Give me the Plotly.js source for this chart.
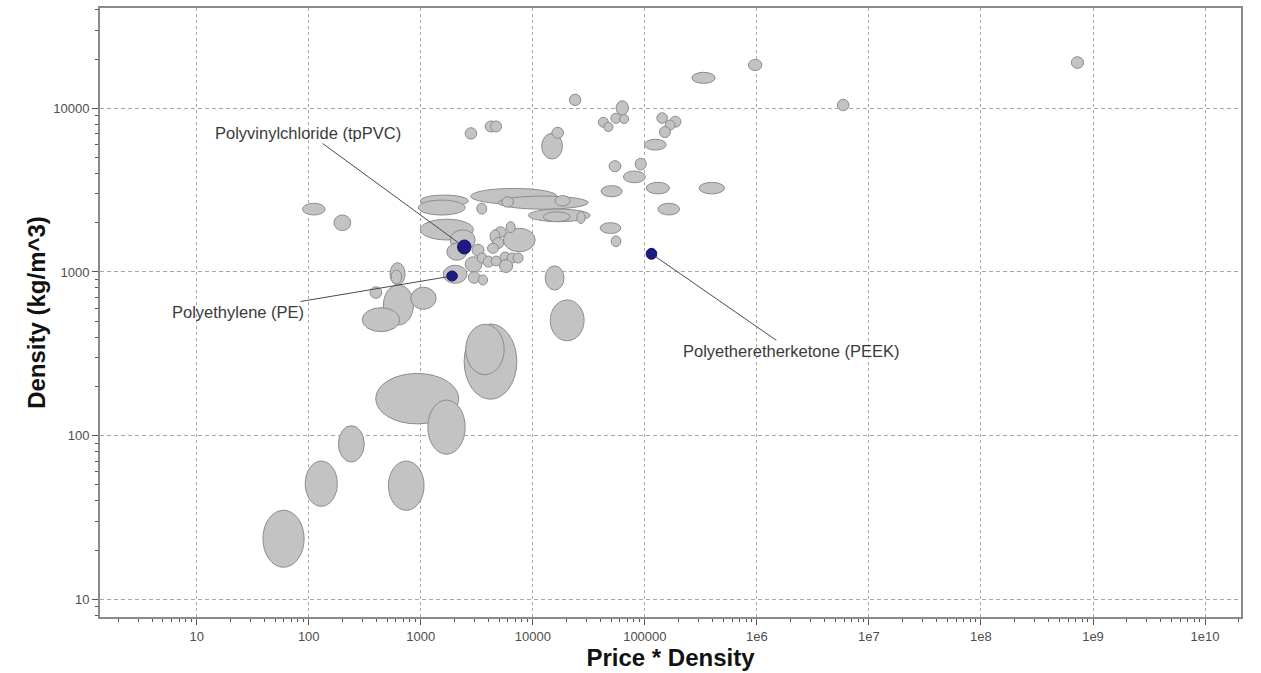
<!DOCTYPE html>
<html><head><meta charset="utf-8">
<script src="https://cdn.plot.ly/plotly-3.0.1.min.js"></script>
<style>html,body{margin:0;padding:0;background:#fff;} #chart{width:1261px;height:673px;}</style>
</head><body><div id="chart"></div>
<script>
// Grey materials: property ranges (Price*Density and Density)
const priceDensityLow  = [39, 93, 184, 514, 396, 1155, 2440, 2520, 14300, 12900, 464, 300, 815, 532, 543, 353, 88, 168,
  2790, 4900, 990, 950, 9140, 12400, 5290, 15800, 3160, 24700,
  990, 1830, 1710, 1590, 2490, 2660, 3270, 5460, 4600, 5780, 4160, 2870, 4380, 3940, 3190, 3600, 4250, 5100, 5900, 6670, 5050,
  2490, 3750, 4200, 12000, 14800, 21200, 263000, 55400, 38500, 43100, 49700, 59600, 128000, 167500, 152000, 135000,
  99200, 48000, 81900, 64400, 40700, 103000, 305000, 131000, 39900, 50000, 841000, 5.24e6, 6.4e8];
const priceDensityHigh = [91, 180, 313, 1070, 2180, 2490, 7200, 5550, 28700, 19000, 860, 650, 1370, 724, 676, 449, 140, 237,
  16400, 31200, 2660, 2490, 32500, 21500, 6720, 21500, 3880, 29300,
  2950, 3060, 2580, 2580, 3510, 3380, 3940, 10500, 5780, 6960, 5100, 3670, 5480, 4930, 3910, 4510, 5210, 6270, 7250, 8190, 6600,
  3160, 4800, 5260, 18400, 18800, 26800, 424000, 71400, 47300, 51900, 61100, 71700, 159000, 210000, 186000, 169000,
  155000, 61100, 103000, 101000, 62700, 166000, 514000, 204000, 61100, 61100, 1108000, 6.63e6, 8.25e8];
const densityLow  = [15.7, 37, 69, 35, 118, 77, 167, 236, 380, 776, 474, 432, 592, 833, 846, 690, 2230, 1790,
  2600, 2420, 2510, 2230, 2030, 2030, 2490, 2530, 2260, 1980,
  1570, 1360, 1180, 853, 1000, 853, 833, 1330, 1630, 1740, 1500, 1250, 1390, 1300, 1135, 1070, 1090, 1150, 1135, 1135, 993,
  6490, 7170, 7170, 4900, 6560, 10400, 14200, 9100, 7660, 7220, 8100, 8080, 8100, 7670, 7370, 6630,
  5560, 4100, 4200, 3510, 2880, 3000, 3000, 2230, 1720, 1430, 17000, 9670, 17550];
const densityHigh = [35, 70, 115, 70, 240, 165, 481, 479, 675, 1090, 833, 605, 807, 1140, 1028, 812, 2630, 2230,
  3240, 2910, 2950, 2750, 2420, 2330, 2880, 2930, 2630, 2330,
  2100, 1810, 1500, 1100, 1240, 1004, 959, 1850, 1890, 2030, 1810, 1480, 1625, 1500, 1306, 1250, 1250, 1325, 1306, 1306, 1190,
  7610, 8370, 8370, 7040, 7660, 12200, 16600, 11130, 8810, 8190, 9320, 9170, 9400, 8950, 8480, 7740,
  6470, 4790, 4950, 4140, 3370, 3530, 3530, 2630, 2000, 1660, 19900, 11350, 20670];

// Highlighted materials
const highlightNames  = ['Polyvinylchloride (tpPVC)', 'Polyethylene (PE)', 'Polyetheretherketone (PEEK)'];
const highlightPDLow  = [2131, 1707, 102700];
const highlightPDHigh = [2807, 2122, 127900];
const highlightDLow   = [1288, 881, 1196];
const highlightDHigh  = [1569, 1014, 1395];

// Tick labels
const xTickVals = [10, 100, 1000, 10000, 100000, 1e6, 1e7, 1e8, 1e9, 1e10];
const xTickText = ['10', '100', '1000', '10000', '100000', '1e6', '1e7', '1e8', '1e9', '1e10'];
const yTickVals = [10, 100, 1000, 10000];
const yTickText = ['10', '100', '1000', '10000'];

const shapes = [];
for (let i = 0; i < priceDensityLow.length; i++) {
  shapes.push({type: 'circle', xref: 'x', yref: 'y',
    x0: priceDensityLow[i], x1: priceDensityHigh[i], y0: densityLow[i], y1: densityHigh[i],
    fillcolor: '#c3c3c3', line: {color: '#8c8c8c', width: 1}, layer: 'above'});
}
for (let i = 0; i < highlightNames.length; i++) {
  shapes.push({type: 'circle', xref: 'x', yref: 'y',
    x0: highlightPDLow[i], x1: highlightPDHigh[i], y0: highlightDLow[i], y1: highlightDHigh[i],
    fillcolor: '#1d1a86', line: {color: '#14125e', width: 1}, layer: 'above'});
}

const labelOffsets = [[-156, -114, 7], [-214, 36, 5], [140, 97, 5]];
const annotations = highlightNames.map((name, i) => ({
  x: Math.log10(Math.sqrt(highlightPDLow[i] * highlightPDHigh[i])),
  y: Math.log10(Math.sqrt(highlightDLow[i] * highlightDHigh[i])),
  xref: 'x', yref: 'y', text: name, showarrow: true, arrowhead: 0, arrowwidth: 1,
  arrowcolor: '#4a4a4a', ax: labelOffsets[i][0], ay: labelOffsets[i][1], standoff: labelOffsets[i][2],
  font: {family: 'Liberation Sans, Arial, sans-serif', size: 16.5, color: '#3a3a3a'}
}));

const axisCommon = {
  type: 'log', showline: true, mirror: true, linecolor: '#8a8a8a', linewidth: 2,
  showgrid: true, gridcolor: '#a6a6a6', gridwidth: 1, zeroline: false,
  ticks: 'outside', ticklen: 6, tickcolor: '#555', tickwidth: 1,
  tickfont: {family: 'Liberation Sans, Arial, sans-serif', size: 13, color: '#4d4d4d'},
  tickmode: 'array',
  minor: {ticks: 'outside', ticklen: 3, tickcolor: '#555', dtick: 'D1', showgrid: false}
};

const layout = {
  width: 1261, height: 673,
  margin: {l: 100, r: 20, t: 8, b: 56},
  paper_bgcolor: '#fff', plot_bgcolor: '#fff',
  showlegend: false,
  xaxis: Object.assign({}, axisCommon, {
    range: [0.137, 10.321], tickvals: xTickVals, ticktext: xTickText, griddash: '3px,3px',
    title: {text: 'Price * Density', standoff: 6,
      font: {family: 'Liberation Sans, Arial, sans-serif', size: 24, color: '#111', weight: 'bold'}}
  }),
  yaxis: Object.assign({}, axisCommon, {
    range: [0.892, 4.613], tickvals: yTickVals, ticktext: yTickText, griddash: '4px,3px',
    title: {text: 'Density (kg/m^3)', standoff: 1,
      font: {family: 'Liberation Sans, Arial, sans-serif', size: 24, color: '#111', weight: 'bold'}}
  }),
  shapes: shapes,
  annotations: annotations
};

Plotly.newPlot('chart', [], layout, {displayModeBar: false, staticPlot: true});
</script>
</body></html>
